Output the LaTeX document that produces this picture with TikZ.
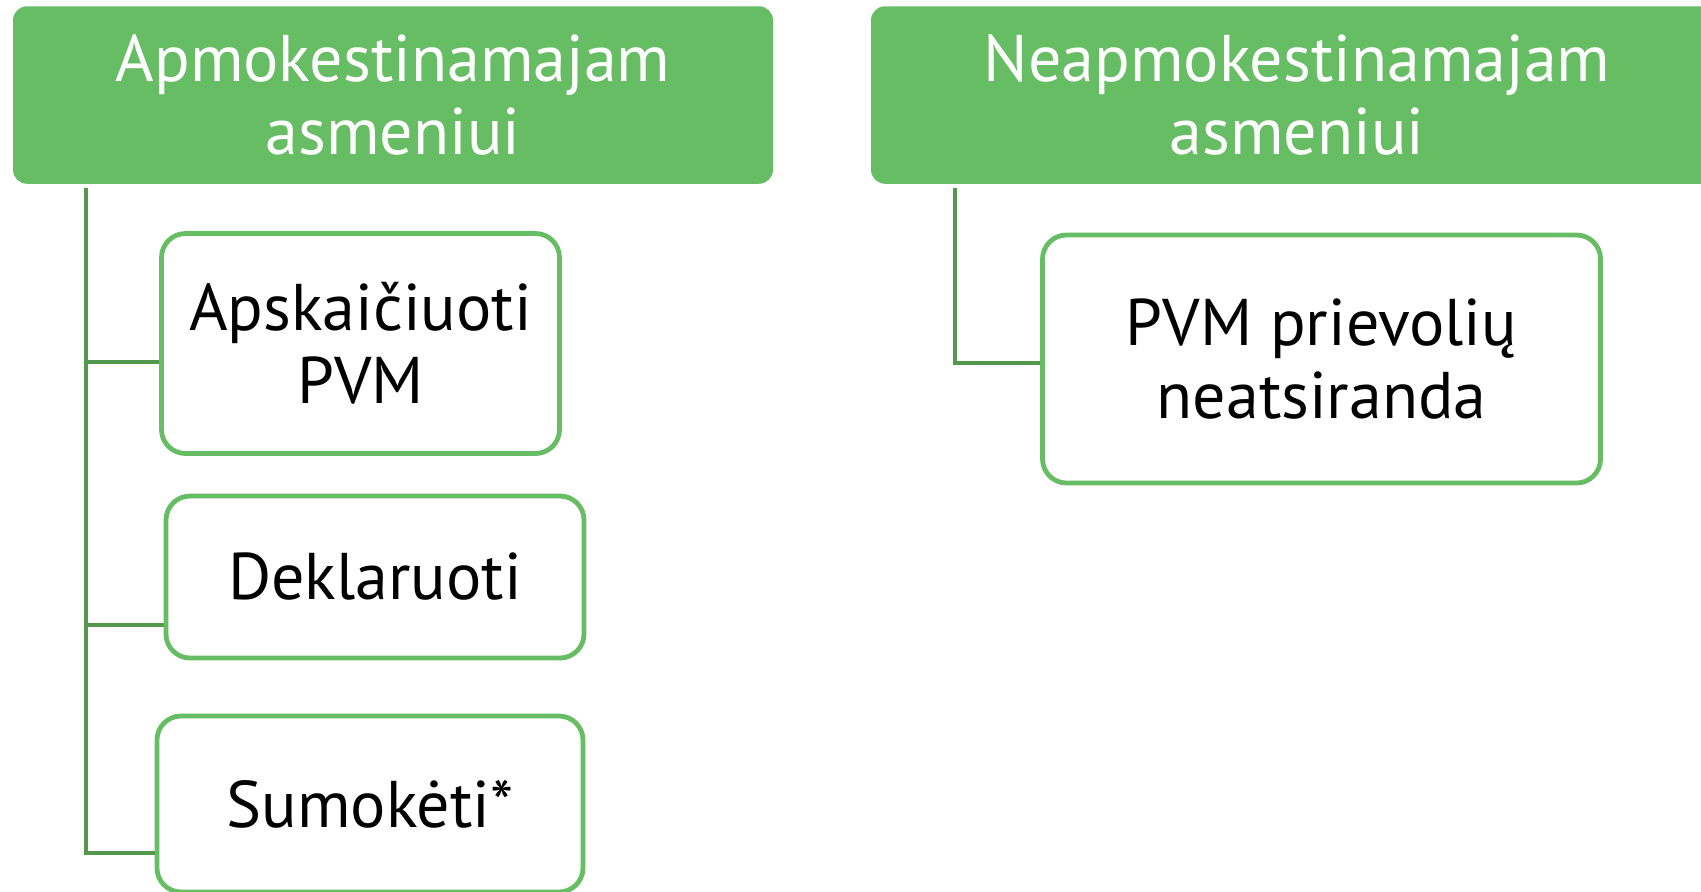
\documentclass[tikz,border=0pt]{standalone}
\usepackage{fontspec}
\setmainfont{PT Sans}
\usetikzlibrary{positioning}
\definecolor{headgreen}{RGB}{103,189,99}
\definecolor{linegreen}{RGB}{84,152,78}
\tikzset{
	bigtext/.style={font=\fontsize{33}{36.5}\selectfont},
	head/.style={bigtext, fill=headgreen, text=white, rounded corners=7pt, align=center, inner sep=0pt},
	item/.style={bigtext, draw=headgreen, line width=2.4pt, fill=white, rounded corners=12pt, align=center, inner sep=0pt},
	conn/.style={draw=linegreen, line width=2.4pt}
}

\begin{document}
\begin{tikzpicture}[x=0.5pt,y=-0.5pt]
		% Frame
		\clip (0,0) rectangle (1701,891);
		\useasboundingbox (0,0) rectangle (1701,891);
		
		% Headers
		\node[head, minimum width=380pt, minimum height=88.75pt] (head1) at (393,95) {Apmokestinamajam\\asmeniui};
		\node[head, minimum width=426pt, minimum height=88.75pt] (head2) at (1297,95) {Neapmokestinamajam\\asmeniui};
		
		% Boxes
		\node[item, minimum width=199pt, minimum height=110pt] (boxA) at (360.5,343.5) {Apskaičiuoti\\PVM};
		\node[item, minimum width=209pt, minimum height=81pt] (boxD) at (375,577) {Deklaruoti};
		\node[item, minimum width=213pt, minimum height=88pt] (boxS) at (370,804) {Sumokėti*};
		\node[item, minimum width=279pt, minimum height=124pt] (boxP) at (1321.5,359) {PVM prievolių\\neatsiranda};
		
		% Lines
		\coordinate (rootL) at (86,188);
		\coordinate (rootR) at (955,188);
		\draw[conn] (rootL) |- (boxS.west |- 0,853);
		\draw[conn] (rootL |- 0,362) -- (boxA.west |- 0,362);
		\draw[conn] (rootL |- 0,625) -- (boxD.west |- 0,625);
		\draw[conn] (rootR) |- (boxP.west |- 0,363);
\end{tikzpicture}
\end{document}
